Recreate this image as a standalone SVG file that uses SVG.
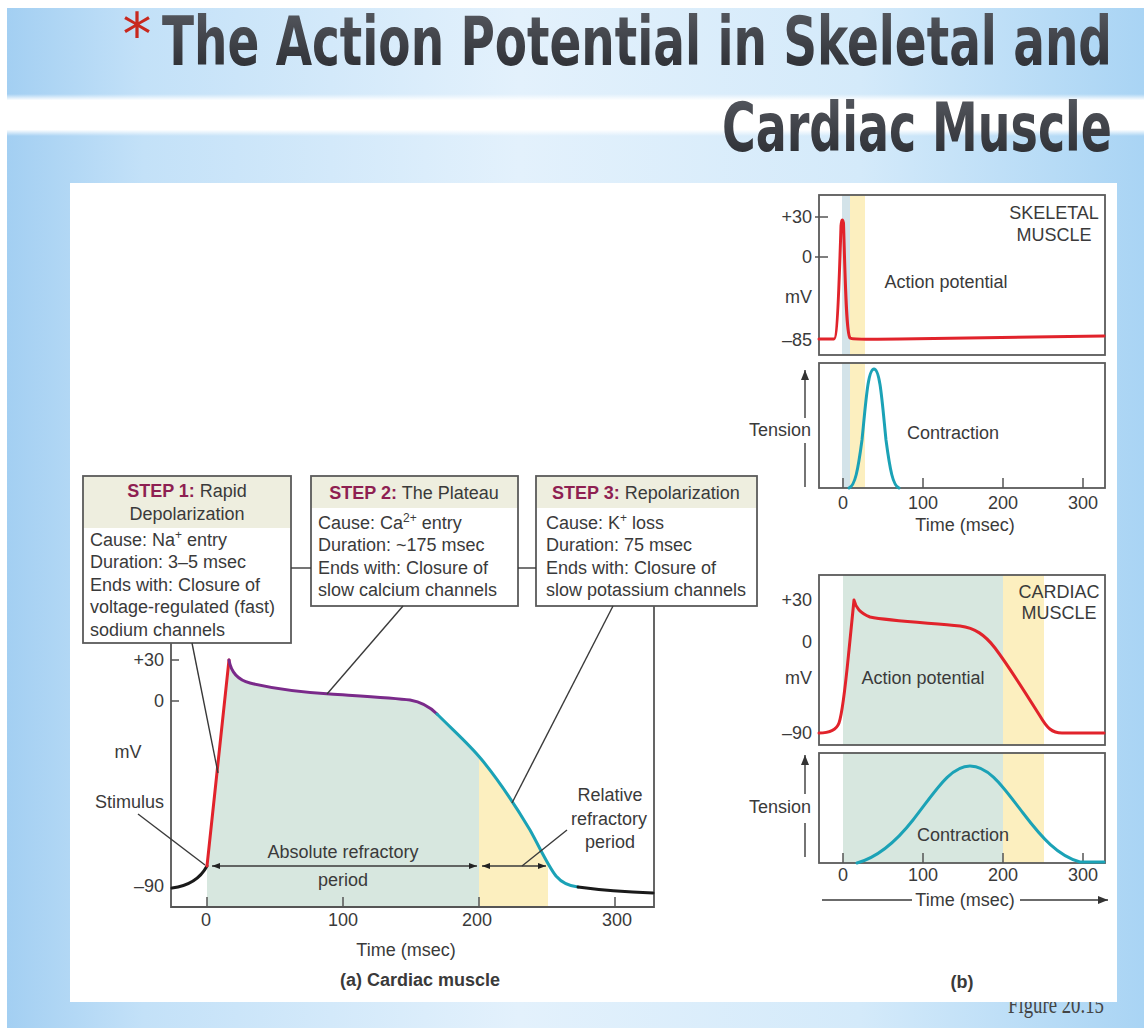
<svg xmlns="http://www.w3.org/2000/svg" width="1144" height="1028" viewBox="0 0 1144 1028">
<defs>
<style>
.t{font-family:"Liberation Sans",Arial,sans-serif;font-size:18px;fill:#3a3a3a}
.b{font-weight:bold}
.step{font-weight:bold;fill:#8e1f52}
.mid{text-anchor:middle}
.end{text-anchor:end}
.box{fill:none;stroke:#5a5a5a;stroke-width:1.8}
.hdr{fill:#eeeedf}
.ln{stroke:#3a3a3a;stroke-width:1.4;fill:none}
.ax{stroke:#555;stroke-width:1.8;fill:none}
.tk{stroke:#555;stroke-width:1.5}
.red{stroke:#e1232b;stroke-width:3;fill:none;stroke-linecap:round;stroke-linejoin:round}
.pur{stroke:#7a2a8a;stroke-width:3;fill:none;stroke-linecap:round}
.teal{stroke:#1ba2b6;stroke-width:3;fill:none;stroke-linecap:round}
.blk{stroke:#1a1a1a;stroke-width:3;fill:none;stroke-linecap:round}
.grn{fill:#d7e7df}
.yel{fill:#fcefbf}
.title{font-family:"DejaVu Sans Condensed","DejaVu Sans",sans-serif;font-weight:bold;font-size:46px;fill:url(#tg)}
</style>
<linearGradient id="bg" x1="0" y1="0" x2="1" y2="0">
<stop offset="0" stop-color="#a3cff2"/>
<stop offset="0.12" stop-color="#c3e1f8"/>
<stop offset="0.45" stop-color="#e3f1fc"/>
<stop offset="0.75" stop-color="#d4eafa"/>
<stop offset="1" stop-color="#a9d4f4"/>
</linearGradient>
<linearGradient id="band" x1="0" y1="0" x2="0" y2="1">
<stop offset="0" stop-color="#fff" stop-opacity="0"/>
<stop offset="0.15" stop-color="#fff" stop-opacity="1"/>
<stop offset="0.85" stop-color="#fff" stop-opacity="1"/>
<stop offset="1" stop-color="#fff" stop-opacity="0"/>
</linearGradient>
<linearGradient id="tg" x1="0" y1="0" x2="0" y2="1">
<stop offset="0" stop-color="#5a5d64"/>
<stop offset="1" stop-color="#26282d"/>
</linearGradient>
<marker id="ah" viewBox="0 0 8 6" refX="8" refY="3" markerWidth="8" markerHeight="6" orient="auto-start-reverse" markerUnits="userSpaceOnUse">
<path d="M0,0 L8,3 L0,6 z" fill="#222"/>
</marker>
<marker id="ah2" viewBox="0 0 10 8" refX="10" refY="4" markerWidth="10" markerHeight="8" orient="auto-start-reverse" markerUnits="userSpaceOnUse">
<path d="M0,0 L10,4 L0,8 z" fill="#333"/>
</marker>
<clipPath id="cg"><rect x="207" y="640" width="272" height="268"/></clipPath>
<clipPath id="cy"><rect x="479" y="640" width="69" height="268"/></clipPath>
<path id="apArea" d="M207,907 L207,866 L229,660 C231,672 238,680 250,683 C275,689 300,692 330,694 C360,696 395,698 410,700 C422,702 430,707 437,714 C455,732 470,745 482,760 C500,782 515,805 530,830 C540,848 548,866 556,876 L556,907 Z"/>
</defs>

<!-- background -->
<g id="background">
<rect x="0" y="0" width="1144" height="1028" fill="#ffffff"/>
<rect x="7" y="8" width="1137" height="1020" fill="url(#bg)"/>
<rect x="7" y="94" width="1137" height="42" fill="url(#band)"/>
<text x="1008" y="1013" textLength="96" lengthAdjust="spacingAndGlyphs" style="font-family:'Liberation Serif','Times New Roman',serif;font-size:26px;fill:#444">Figure 20.15</text>
<rect x="70" y="183" width="1047" height="819" fill="#ffffff"/>
</g>

<!-- title -->
<g id="title">
<text x="137" y="55" style="font-family:'DejaVu Sans',sans-serif;font-size:58px;fill:#c8281e" text-anchor="middle">*</text>
<text class="title" transform="translate(162,65) scale(1,1.49)" x="0" y="0" textLength="950" lengthAdjust="spacingAndGlyphs">The Action Potential in Skeletal and</text>
<text class="title" transform="translate(722,151) scale(1,1.49)" x="0" y="0" textLength="390" lengthAdjust="spacingAndGlyphs">Cardiac Muscle</text>
</g>

<!-- (a) cardiac chart -->
<g id="chart-a">
<use href="#apArea" class="grn" clip-path="url(#cg)"/>
<use href="#apArea" class="yel" clip-path="url(#cy)"/>
<path class="ax" d="M171,643 L171,907 L654,907 L654,606"/>
<line class="tk" x1="171" y1="660" x2="179" y2="660"/>
<line class="tk" x1="171" y1="701" x2="179" y2="701"/>
<line class="tk" x1="207" y1="897" x2="207" y2="907"/>
<line class="tk" x1="343" y1="897" x2="343" y2="907"/>
<line class="tk" x1="479" y1="897" x2="479" y2="907"/>
<line class="tk" x1="615" y1="897" x2="615" y2="907"/>
<path class="blk" d="M172,888 C188,886 200,879 207,866"/>
<path class="red" d="M207,866 L229,660"/>
<path class="pur" d="M229,660 C231,672 238,680 250,683 C275,689 300,692 330,694 C360,696 395,698 410,700 C422,702 430,707 437,714"/>
<path class="teal" d="M437,714 C455,732 470,745 482,760 C500,782 515,805 530,830 C540,848 548,866 556,876 C562,883 568,886 578,887"/>
<path class="blk" d="M578,887 C600,890 625,892 653,893"/>
<text class="t end" x="164" y="666">+30</text>
<text class="t end" x="164" y="707">0</text>
<text class="t mid" x="128" y="758">mV</text>
<text class="t end" x="164" y="808">Stimulus</text>
<text class="t end" x="164" y="892">–90</text>
<text class="t mid" x="206" y="926">0</text>
<text class="t mid" x="343" y="926">100</text>
<text class="t mid" x="477" y="926">200</text>
<text class="t mid" x="617" y="926">300</text>
<text class="t mid" x="406" y="956">Time (msec)</text>
<text class="t b mid" x="420" y="986">(a) Cardiac muscle</text>
<text class="t mid" x="343" y="858">Absolute refractory</text>
<text class="t mid" x="343" y="886">period</text>
<text class="t mid" x="610" y="801">Relative</text>
<text class="t mid" x="609" y="825">refractory</text>
<text class="t mid" x="610" y="848">period</text>
</g>

<!-- step boxes -->
<g id="step1">
<rect class="hdr" x="83" y="476" width="208" height="52"/>
<rect class="box" x="83" y="476" width="208" height="167"/>
<text class="t mid" x="187" y="497"><tspan class="step">STEP 1:</tspan> Rapid</text>
<text class="t mid" x="187" y="520">Depolarization</text>
<text class="t" x="90" y="546">Cause: Na<tspan font-size="12" dy="-7">+</tspan><tspan dy="7"> entry</tspan></text>
<text class="t" x="90" y="568">Duration: 3–5 msec</text>
<text class="t" x="90" y="591">Ends with: Closure of</text>
<text class="t" x="90" y="613">voltage-regulated (fast)</text>
<text class="t" x="90" y="636">sodium channels</text>
</g>

<g id="step2">
<rect class="hdr" x="311" y="476" width="207" height="32"/>
<rect class="box" x="311" y="476" width="207" height="130"/>
<text class="t mid" x="414" y="499"><tspan class="step">STEP 2:</tspan> The Plateau</text>
<text class="t" x="318" y="529">Cause: Ca<tspan font-size="12" dy="-7">2+</tspan><tspan dy="7"> entry</tspan></text>
<text class="t" x="318" y="551">Duration: ~175 msec</text>
<text class="t" x="318" y="574">Ends with: Closure of</text>
<text class="t" x="318" y="596">slow calcium channels</text>
</g>

<g id="step3">
<rect class="hdr" x="536" y="476" width="221" height="32"/>
<rect class="box" x="536" y="476" width="221" height="130"/>
<text class="t mid" x="646" y="499"><tspan class="step">STEP 3:</tspan> Repolarization</text>
<text class="t" x="546" y="529">Cause: K<tspan font-size="12" dy="-7">+</tspan><tspan dy="7"> loss</tspan></text>
<text class="t" x="546" y="551">Duration: 75 msec</text>
<text class="t" x="546" y="574">Ends with: Closure of</text>
<text class="t" x="546" y="596">slow potassium channels</text>
</g>

<!-- connectors -->
<g id="connectors">
<line class="ln" x1="291" y1="568" x2="311" y2="568"/>
<line class="ln" x1="518" y1="568" x2="536" y2="568"/>
<line class="ln" x1="192" y1="643" x2="218" y2="773"/>
<line class="ln" x1="403" y1="606" x2="327" y2="694"/>
<line class="ln" x1="613" y1="606" x2="512" y2="803"/>
<line class="ln" x1="138" y1="814" x2="205" y2="865"/>
<line class="ln" x1="567" y1="830" x2="522" y2="866"/>
<line class="ln" x1="212" y1="866" x2="477" y2="866" marker-start="url(#ah)" marker-end="url(#ah)"/>
<line class="ln" x1="482" y1="866" x2="546" y2="866" marker-start="url(#ah)" marker-end="url(#ah)"/>
</g>

<!-- (b) skeletal -->
<g id="chart-skeletal">
<rect x="842" y="195" width="8" height="160" fill="#d3e3e9"/>
<rect x="850" y="195" width="15" height="160" class="yel"/>
<rect x="842" y="363" width="8" height="125" fill="#d3e3e9"/>
<rect x="850" y="363" width="15" height="125" class="yel"/>
<rect class="box" x="819" y="195" width="286" height="160"/>
<rect class="box" x="819" y="363" width="286" height="125"/>
<line class="tk" x1="815" y1="217" x2="828" y2="217"/>
<line class="tk" x1="815" y1="257" x2="828" y2="257"/>
<line class="tk" x1="843" y1="478" x2="843" y2="488"/>
<line class="tk" x1="923" y1="478" x2="923" y2="488"/>
<line class="tk" x1="1003" y1="478" x2="1003" y2="488"/>
<line class="tk" x1="1083" y1="478" x2="1083" y2="488"/>
<path class="red" d="M819,339 L834,339 C837,339 839,290 841,226 Q842,216 843.5,223 C845,270 846,333 850,338 C853,340 870,339 900,339 L1104,336"/>
<path class="teal" d="M849,488 C855,486 858,470 862,440 C866,400 868,369 874,369 C880,369 882,400 886,440 C890,470 893,486 899,488"/>
<text class="t end" x="812" y="223">+30</text>
<text class="t end" x="812" y="263">0</text>
<text class="t end" x="812" y="303">mV</text>
<text class="t end" x="812" y="346">–85</text>
<text class="t mid" x="1054" y="219">SKELETAL</text>
<text class="t mid" x="1054" y="241">MUSCLE</text>
<text class="t mid" x="946" y="288">Action potential</text>
<text class="t mid" x="953" y="439">Contraction</text>
<text class="t mid" x="780" y="436">Tension</text>
<line class="ln" x1="805" y1="487" x2="805" y2="443"/>
<line class="ln" x1="805" y1="418" x2="805" y2="370" marker-end="url(#ah2)"/>
<text class="t mid" x="843" y="509">0</text>
<text class="t mid" x="923" y="509">100</text>
<text class="t mid" x="1003" y="509">200</text>
<text class="t mid" x="1083" y="509">300</text>
<text class="t mid" x="965" y="531">Time (msec)</text>
</g>

<!-- (b) cardiac -->
<g id="chart-cardiac">
<rect x="843" y="575" width="160" height="170" class="grn"/>
<rect x="1003" y="575" width="41" height="170" class="yel"/>
<rect x="843" y="753" width="160" height="110" class="grn"/>
<rect x="1003" y="753" width="41" height="110" class="yel"/>
<rect class="box" x="819" y="575" width="286" height="170"/>
<rect class="box" x="819" y="753" width="286" height="110"/>
<line class="tk" x1="843" y1="853" x2="843" y2="863"/>
<line class="tk" x1="923" y1="853" x2="923" y2="863"/>
<line class="tk" x1="1003" y1="853" x2="1003" y2="863"/>
<line class="tk" x1="1083" y1="853" x2="1083" y2="863"/>
<path class="red" d="M819,733 C828,733 836,731 839,723 C843,712 846,680 849,650 L854,600 C856,608 860,613 870,617 C890,621 930,623 960,626 C975,628 985,635 995,648 C1010,668 1025,692 1040,716 C1047,728 1052,733 1062,733 L1104,733"/>
<path class="teal" d="M857,863 C875,858 895,843 913,820 C935,792 950,766 970,766 C990,766 1005,790 1023,813 C1042,838 1058,856 1080,862 L1104,862"/>
<text class="t end" x="812" y="606">+30</text>
<text class="t end" x="812" y="648">0</text>
<text class="t end" x="812" y="684">mV</text>
<text class="t end" x="812" y="739">–90</text>
<text class="t mid" x="1059" y="598">CARDIAC</text>
<text class="t mid" x="1059" y="619">MUSCLE</text>
<text class="t mid" x="923" y="684">Action potential</text>
<text class="t mid" x="963" y="841">Contraction</text>
<text class="t mid" x="780" y="813">Tension</text>
<line class="ln" x1="805" y1="857" x2="805" y2="823"/>
<line class="ln" x1="805" y1="794" x2="805" y2="755" marker-end="url(#ah2)"/>
<text class="t mid" x="843" y="881">0</text>
<text class="t mid" x="923" y="881">100</text>
<text class="t mid" x="1003" y="881">200</text>
<text class="t mid" x="1083" y="881">300</text>
<line class="ln" x1="822" y1="900" x2="912" y2="900"/>
<text class="t mid" x="965" y="906">Time (msec)</text>
<line class="ln" x1="1020" y1="900" x2="1108" y2="900" marker-end="url(#ah2)"/>
<text class="t b mid" x="962" y="988">(b)</text>
</g>
</svg>
